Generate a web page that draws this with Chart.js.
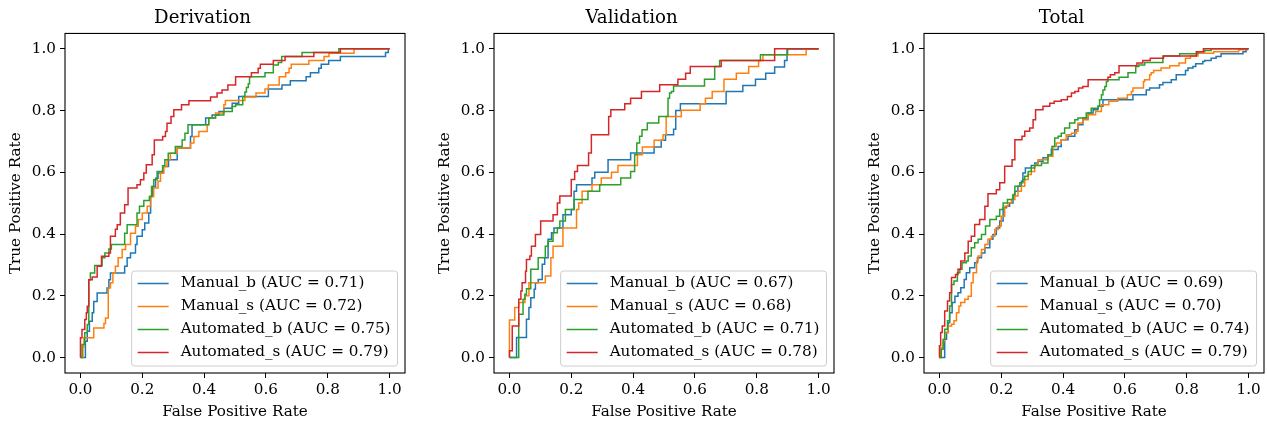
<!DOCTYPE html>
<html>
<head>
<meta charset="utf-8">
<script src="https://cdn.jsdelivr.net/npm/chart.js@4.4.1/dist/chart.umd.min.js"></script>
<style>
  html, body { margin: 0; padding: 0; background: #fff; }
  #wrap { position: relative; width: 1267px; height: 423px; overflow: hidden; background: #fff; }
  canvas { position: absolute; top: 0; }
</style>
</head>
<body>
<div id="wrap">
  <canvas id="c0" width="408" height="423" style="left:0px"></canvas>
  <canvas id="c1" width="408" height="423" style="left:429px"></canvas>
  <canvas id="c2" width="408" height="423" style="left:859px"></canvas>
</div>
<script>
// panels and series
const panelTitles = ['Derivation', 'Validation', 'Total'];
const seriesNames = ['Manual_b', 'Manual_s', 'Automated_b', 'Automated_s'];
const seriesColors = ['#1f77b4', '#ff7f0e', '#2ca02c', '#d62728'];
const aucDerivation = [0.71, 0.72, 0.75, 0.79];
const aucValidation = [0.67, 0.68, 0.71, 0.78];
const aucTotal = [0.69, 0.70, 0.74, 0.79];
const tickValues = [0.0, 0.2, 0.4, 0.6, 0.8, 1.0];

// ROC corner points [fpr, tpr]
const derivManualB = [[0,0],[0.016,0.053],[0.022,0.085],[0.029,0.118],[0.038,0.145],[0.043,0.182],[0.054,0.209],[0.086,0.225],[0.092,0.252],[0.097,0.274],[0.143,0.296],[0.151,0.323],[0.162,0.339],[0.178,0.366],[0.183,0.393],[0.2,0.414],[0.208,0.436],[0.221,0.468],[0.227,0.522],[0.234,0.554],[0.243,0.581],[0.251,0.598],[0.266,0.619],[0.285,0.641],[0.313,0.679],[0.356,0.716],[0.361,0.754],[0.405,0.776],[0.426,0.786],[0.448,0.797],[0.464,0.808],[0.491,0.824],[0.512,0.846],[0.608,0.87],[0.652,0.883],[0.679,0.897],[0.73,0.91],[0.744,0.923],[0.771,0.937],[0.779,0.95],[0.803,0.962],[0.841,0.975],[0.987,0.988],[0.996,1.0],[1,1]];
const derivManualS = [[0,0],[0.008,0.035],[0.011,0.064],[0.043,0.096],[0.076,0.11],[0.081,0.128],[0.09,0.225],[0.097,0.242],[0.105,0.274],[0.113,0.296],[0.122,0.323],[0.135,0.35],[0.146,0.366],[0.162,0.403],[0.178,0.425],[0.187,0.447],[0.2,0.468],[0.216,0.49],[0.227,0.522],[0.237,0.549],[0.251,0.571],[0.259,0.598],[0.27,0.619],[0.28,0.641],[0.291,0.662],[0.313,0.679],[0.356,0.695],[0.367,0.716],[0.383,0.732],[0.41,0.754],[0.415,0.776],[0.437,0.792],[0.464,0.819],[0.469,0.833],[0.532,0.844],[0.568,0.857],[0.597,0.87],[0.608,0.883],[0.643,0.91],[0.664,0.923],[0.675,0.937],[0.682,0.95],[0.739,0.962],[0.788,0.975],[0.804,0.986],[0.885,1.0],[1,1]];
const derivAutoB = [[0,0],[0.005,0.042],[0.014,0.08],[0.022,0.107],[0.027,0.252],[0.032,0.274],[0.046,0.298],[0.07,0.323],[0.079,0.339],[0.092,0.352],[0.1,0.366],[0.143,0.403],[0.151,0.43],[0.183,0.468],[0.191,0.49],[0.205,0.509],[0.223,0.522],[0.23,0.554],[0.237,0.576],[0.248,0.603],[0.266,0.621],[0.273,0.641],[0.284,0.662],[0.307,0.684],[0.329,0.705],[0.338,0.727],[0.348,0.754],[0.415,0.776],[0.437,0.786],[0.464,0.797],[0.491,0.813],[0.502,0.819],[0.525,0.846],[0.532,0.86],[0.537,0.875],[0.543,0.887],[0.547,0.91],[0.597,0.923],[0.624,0.948],[0.64,0.956],[0.651,0.975],[0.717,0.988],[0.836,1.0],[1,1]];
const derivAutoS = [[0,0],[0,0.064],[0.005,0.091],[0.014,0.123],[0.019,0.145],[0.022,0.166],[0.027,0.252],[0.038,0.261],[0.054,0.296],[0.068,0.328],[0.092,0.339],[0.097,0.393],[0.113,0.416],[0.119,0.43],[0.129,0.468],[0.143,0.495],[0.154,0.549],[0.183,0.56],[0.194,0.576],[0.205,0.598],[0.213,0.625],[0.232,0.657],[0.239,0.705],[0.266,0.716],[0.275,0.732],[0.28,0.759],[0.293,0.781],[0.302,0.803],[0.327,0.819],[0.351,0.832],[0.421,0.844],[0.442,0.857],[0.458,0.867],[0.477,0.883],[0.502,0.91],[0.553,0.923],[0.575,0.937],[0.582,0.95],[0.624,0.962],[0.662,0.975],[0.755,0.988],[0.841,1.0],[1,1]];

const validManualB = [[0,0],[0.023,0.065],[0.055,0.124],[0.063,0.162],[0.069,0.194],[0.08,0.221],[0.084,0.242],[0.093,0.253],[0.106,0.302],[0.114,0.323],[0.125,0.383],[0.136,0.404],[0.144,0.42],[0.173,0.463],[0.2,0.48],[0.209,0.539],[0.217,0.56],[0.267,0.582],[0.276,0.6],[0.319,0.641],[0.392,0.663],[0.468,0.682],[0.491,0.704],[0.505,0.722],[0.531,0.74],[0.538,0.8],[0.553,0.822],[0.701,0.862],[0.755,0.881],[0.796,0.902],[0.829,0.921],[0.858,0.941],[0.89,0.962],[0.898,1.0],[1,1]];
const validManualS = [[0,0],[0,0.122],[0.017,0.162],[0.03,0.178],[0.05,0.2],[0.063,0.242],[0.116,0.264],[0.134,0.323],[0.141,0.361],[0.173,0.42],[0.217,0.48],[0.224,0.501],[0.235,0.539],[0.267,0.56],[0.297,0.582],[0.33,0.6],[0.351,0.622],[0.414,0.657],[0.43,0.682],[0.468,0.704],[0.497,0.722],[0.507,0.781],[0.556,0.801],[0.617,0.822],[0.634,0.84],[0.656,0.862],[0.694,0.902],[0.734,0.921],[0.774,0.943],[0.806,0.962],[0.82,0.981],[0.96,1.0],[1,1]];
const validAutoB = [[0,0],[0.03,0.14],[0.044,0.189],[0.05,0.205],[0.055,0.223],[0.069,0.286],[0.093,0.323],[0.116,0.361],[0.125,0.377],[0.141,0.404],[0.155,0.42],[0.163,0.442],[0.181,0.48],[0.209,0.512],[0.254,0.539],[0.292,0.56],[0.36,0.582],[0.392,0.603],[0.405,0.657],[0.412,0.695],[0.421,0.717],[0.429,0.738],[0.446,0.76],[0.483,0.781],[0.513,0.84],[0.518,0.857],[0.524,0.862],[0.531,0.88],[0.631,0.902],[0.664,0.943],[0.68,0.962],[0.812,0.981],[0.9,1.0],[1,1]];
const validAutoS = [[0,0],[0,0.022],[0.009,0.102],[0.03,0.189],[0.037,0.216],[0.041,0.242],[0.052,0.28],[0.055,0.318],[0.066,0.329],[0.071,0.361],[0.084,0.399],[0.101,0.442],[0.141,0.463],[0.155,0.501],[0.163,0.523],[0.2,0.577],[0.211,0.603],[0.22,0.622],[0.256,0.663],[0.265,0.722],[0.321,0.781],[0.328,0.803],[0.373,0.822],[0.392,0.84],[0.427,0.862],[0.486,0.884],[0.545,0.902],[0.57,0.921],[0.585,0.943],[0.685,0.962],[0.858,1.0],[1,1]];

const totalManualB = [[0,0],[0.017,0.059],[0.023,0.081],[0.028,0.113],[0.033,0.145],[0.041,0.178],[0.05,0.199],[0.06,0.21],[0.069,0.226],[0.08,0.253],[0.087,0.275],[0.098,0.291],[0.114,0.307],[0.123,0.323],[0.136,0.339],[0.147,0.356],[0.163,0.383],[0.173,0.399],[0.184,0.42],[0.195,0.442],[0.206,0.485],[0.217,0.49],[0.227,0.501],[0.238,0.523],[0.244,0.539],[0.254,0.555],[0.265,0.571],[0.27,0.598],[0.278,0.614],[0.297,0.622],[0.308,0.63],[0.319,0.636],[0.335,0.647],[0.351,0.657],[0.362,0.674],[0.384,0.684],[0.394,0.706],[0.416,0.717],[0.438,0.738],[0.448,0.754],[0.464,0.776],[0.481,0.792],[0.497,0.803],[0.513,0.814],[0.529,0.835],[0.626,0.851],[0.669,0.867],[0.68,0.873],[0.712,0.884],[0.723,0.891],[0.75,0.9],[0.766,0.916],[0.796,0.93],[0.804,0.938],[0.82,0.943],[0.829,0.952],[0.852,0.959],[0.858,0.962],[0.879,0.97],[0.895,0.975],[0.911,0.984],[0.982,0.991],[0.992,0.997],[0.995,1.0],[1,1]];
const totalManualS = [[0,0],[0.004,0.032],[0.012,0.054],[0.017,0.081],[0.028,0.102],[0.039,0.108],[0.047,0.119],[0.055,0.145],[0.063,0.167],[0.069,0.178],[0.082,0.189],[0.093,0.199],[0.103,0.242],[0.109,0.275],[0.12,0.313],[0.125,0.329],[0.136,0.35],[0.147,0.366],[0.157,0.383],[0.168,0.393],[0.179,0.415],[0.19,0.426],[0.2,0.458],[0.211,0.49],[0.222,0.501],[0.233,0.512],[0.244,0.523],[0.254,0.539],[0.265,0.555],[0.276,0.577],[0.287,0.593],[0.297,0.603],[0.308,0.625],[0.319,0.641],[0.351,0.652],[0.367,0.684],[0.378,0.695],[0.394,0.706],[0.41,0.722],[0.427,0.727],[0.443,0.733],[0.448,0.76],[0.464,0.77],[0.481,0.787],[0.505,0.797],[0.524,0.819],[0.548,0.83],[0.577,0.84],[0.608,0.851],[0.621,0.862],[0.626,0.873],[0.66,0.894],[0.664,0.9],[0.68,0.916],[0.685,0.923],[0.693,0.93],[0.717,0.938],[0.745,0.945],[0.775,0.954],[0.796,0.97],[0.812,0.977],[0.836,0.986],[0.887,0.991],[0.968,0.997],[0.993,1.0],[1,1]];
const totalAutoB = [[0,0],[0.006,0.027],[0.012,0.059],[0.017,0.092],[0.026,0.119],[0.033,0.167],[0.039,0.237],[0.047,0.248],[0.058,0.275],[0.066,0.286],[0.073,0.307],[0.087,0.313],[0.093,0.329],[0.103,0.356],[0.114,0.372],[0.125,0.383],[0.136,0.399],[0.149,0.426],[0.163,0.447],[0.184,0.458],[0.195,0.48],[0.206,0.501],[0.22,0.512],[0.238,0.528],[0.244,0.555],[0.26,0.566],[0.27,0.577],[0.276,0.587],[0.287,0.603],[0.297,0.614],[0.308,0.622],[0.33,0.63],[0.351,0.657],[0.364,0.684],[0.373,0.711],[0.384,0.717],[0.394,0.727],[0.405,0.744],[0.421,0.76],[0.438,0.77],[0.448,0.776],[0.475,0.792],[0.491,0.808],[0.513,0.814],[0.518,0.835],[0.524,0.851],[0.529,0.867],[0.535,0.878],[0.54,0.894],[0.545,0.9],[0.581,0.908],[0.61,0.923],[0.635,0.943],[0.645,0.948],[0.664,0.956],[0.723,0.977],[0.777,0.984],[0.836,0.991],[0.858,0.995],[0.879,1.0],[1,1]];
const totalAutoS = [[0,0],[0,0.038],[0.004,0.081],[0.009,0.102],[0.017,0.151],[0.026,0.183],[0.033,0.21],[0.039,0.259],[0.052,0.269],[0.06,0.286],[0.069,0.313],[0.082,0.339],[0.093,0.377],[0.103,0.393],[0.114,0.431],[0.13,0.447],[0.147,0.49],[0.157,0.531],[0.184,0.544],[0.195,0.566],[0.211,0.62],[0.235,0.641],[0.244,0.706],[0.267,0.717],[0.276,0.733],[0.292,0.744],[0.303,0.77],[0.311,0.803],[0.335,0.814],[0.357,0.824],[0.371,0.83],[0.394,0.835],[0.414,0.846],[0.427,0.857],[0.438,0.862],[0.45,0.873],[0.464,0.878],[0.481,0.9],[0.545,0.908],[0.553,0.916],[0.567,0.923],[0.581,0.945],[0.639,0.954],[0.658,0.962],[0.682,0.97],[0.725,0.977],[0.831,0.991],[0.854,1.0],[1,1]];

const panelCurves = [
  [derivManualB, derivManualS, derivAutoB, derivAutoS],
  [validManualB, validManualS, validAutoB, validAutoS],
  [totalManualB, totalManualS, totalAutoB, totalAutoS]
];
const panelAuc = [aucDerivation, aucValidation, aucTotal];

const FONT = '"DejaVu Serif", "Liberation Serif", serif';
const BASE = 15.2;   // tick / label / legend size
const TITLE = 18.2;

// box around axes + matplotlib-like legend in the lower right
const frameLegend = {
  id: 'frameLegend',
  afterDatasetsDraw(chart) {
    const { ctx, chartArea: a } = chart;
    ctx.save();
    ctx.strokeStyle = '#000';
    ctx.lineWidth = 1.1;
    ctx.strokeRect(a.left, a.top, a.right - a.left, a.bottom - a.top);

    ctx.font = BASE + 'px ' + FONT;
    const sets = chart.data.datasets;
    const textW = Math.max(...sets.map(d => ctx.measureText(d.label).width));
    const w = 49 + textW + 7, h = 95;
    const x0 = a.right - 7.5 - w, y0 = a.bottom - 7 - h;
    ctx.beginPath();
    ctx.roundRect(x0, y0, w, h, 3);
    ctx.fillStyle = 'rgba(255,255,255,0.8)';
    ctx.fill();
    ctx.strokeStyle = '#cccccc';
    ctx.lineWidth = 1;
    ctx.stroke();
    sets.forEach((d, i) => {
      const yc = y0 + 12.5 + i * 23;
      ctx.strokeStyle = d.borderColor;
      ctx.lineWidth = 1.5;
      ctx.beginPath();
      ctx.moveTo(x0 + 6, yc);
      ctx.lineTo(x0 + 37, yc);
      ctx.stroke();
      ctx.fillStyle = '#000';
      ctx.textBaseline = 'middle';
      ctx.textAlign = 'left';
      ctx.fillText(d.label, x0 + 49, yc);
    });
    ctx.restore();
  }
};

function axisOpts(titleText, isX) {
  return {
    type: 'linear',
    min: -0.05,
    max: 1.05,
    afterBuildTicks: s => { s.ticks = tickValues.map(v => ({ value: v })); },
    afterFit: s => { if (isX) s.height = 50; else s.width = 65; },
    grid: { drawOnChartArea: false, drawTicks: true, tickLength: 5, color: '#000', lineWidth: 1 },
    border: { display: false },
    ticks: {
      color: '#000',
      padding: isX ? 3 : 4,
      font: { family: FONT, size: BASE },
      maxRotation: 0,
      callback: v => Number(v).toFixed(1)
    },
    title: {
      display: true,
      text: titleText,
      color: '#000',
      font: { family: FONT, size: BASE },
      padding: isX ? { top: 0, bottom: 2 } : { top: 6.5, bottom: 0 }
    }
  };
}

panelTitles.forEach((title, p) => {
  const datasets = seriesNames.map((name, i) => ({
    label: `${name} (AUC = ${panelAuc[p][i].toFixed(2)})`,
    data: panelCurves[p][i].map(([x, y]) => ({ x, y })),
    borderColor: seriesColors[i],
    backgroundColor: seriesColors[i],
    borderWidth: 1.5,
    pointRadius: 0,
    stepped: 'before',
    fill: false,
    order: seriesNames.length - i
  }));

  new Chart(document.getElementById('c' + p), {
    type: 'line',
    data: { datasets },
    options: {
      responsive: false,
      animation: false,
      devicePixelRatio: 1,
      layout: { padding: { left: 0, right: 3, top: 0, bottom: 0 } },
      plugins: {
        legend: { display: false },
        tooltip: { enabled: false },
        title: {
          display: true,
          text: title,
          color: '#000',
          font: { family: FONT, size: TITLE, weight: 'normal' },
          padding: { top: 7, bottom: 4.6 }
        }
      },
      scales: {
        x: axisOpts('False Positive Rate', true),
        y: axisOpts('True Positive Rate', false)
      }
    },
    plugins: [frameLegend]
  });
});
</script>
</body>
</html>
